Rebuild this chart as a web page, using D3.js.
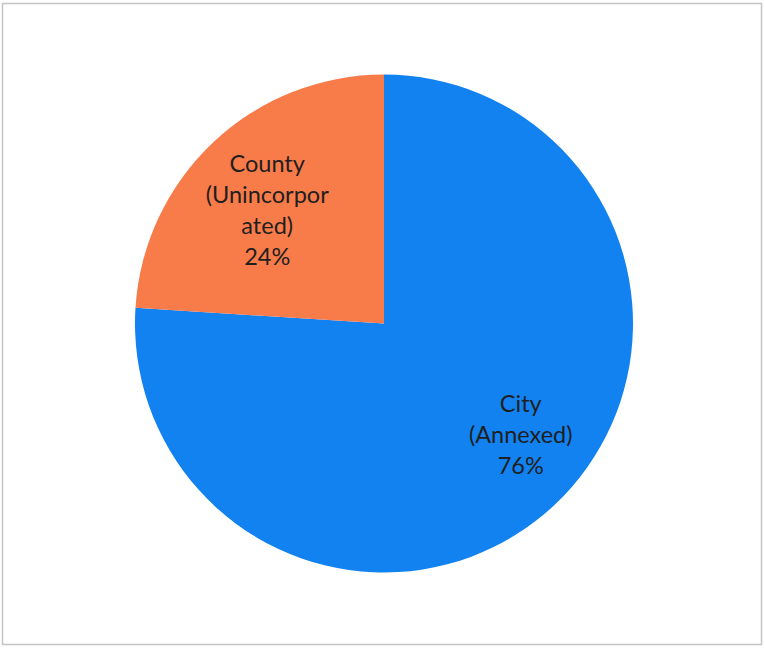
<!DOCTYPE html>
<html>
<head>
<meta charset="utf-8">
<script src="https://cdn.jsdelivr.net/npm/d3@7"></script>
<style>
  body { margin: 0; background: #fff; }
  svg text { font-family: Lato, "Open Sans", sans-serif; }
</style>
</head>
<body>
<div id="chart"></div>
<script>
// slices, in drawing order (clockwise from 12 o'clock)
const categories = ["City (Annexed)", "County (Unincorporated)"];
const values = [76, 24];
const labelLines = [["City", "(Annexed)", "76%"], ["County", "(Unincorpor", "ated)", "24%"]];
const colors = ["#1282f0", "#f87b4a"];

const width = 765, height = 648;
const cx = 384, cy = 323.5, radius = 249;

const svg = d3.select("#chart")
  .append("svg")
    .attr("width", width)
    .attr("height", height);

// chart frame
svg.append("rect")
  .attr("x", 2.5).attr("y", 3.5)
  .attr("width", 759).attr("height", 641)
  .attr("fill", "#fff")
  .attr("stroke", "#c4c4c4")
  .attr("stroke-width", 1.5);

const g = svg.append("g")
  .attr("transform", `translate(${cx},${cy})`);

const data = categories.map((c, i) => ({ name: c, value: values[i], lines: labelLines[i], color: colors[i] }));

const pie = d3.pie()
  .value(d => d.value)
  .sort(null);

const arc = d3.arc()
  .innerRadius(0)
  .outerRadius(radius);

const arcs = pie(data);

g.selectAll("path")
  .data(arcs)
  .join("path")
    .attr("d", arc)
    .attr("fill", d => d.data.color);

// label placement, roughly what excel "best fit" did
const labelRadius = [0.72, 0.65];
const nudge = [[14, -19], [-6, 5]];

const labels = g.selectAll("g.label")
  .data(arcs)
  .join("g")
    .attr("class", "label")
    .attr("transform", (d, i) => {
      const r = radius * labelRadius[i];
      const c = d3.arc().innerRadius(r).outerRadius(r).centroid(d);
      return `translate(${c[0] + nudge[i][0]},${c[1] + nudge[i][1]})`;
    });

const lineH = 31;
labels.selectAll("text")
  .data(d => d.data.lines.map((t, j, a) => ({ t, j, n: a.length })))
  .join("text")
    .attr("text-anchor", "middle")
    .attr("y", d => (d.j - (d.n - 1) / 2) * lineH + 8)
    .attr("font-size", 23.5)
    .attr("fill", "#1f1f1f")
    .text(d => d.t);
</script>
</body>
</html>
